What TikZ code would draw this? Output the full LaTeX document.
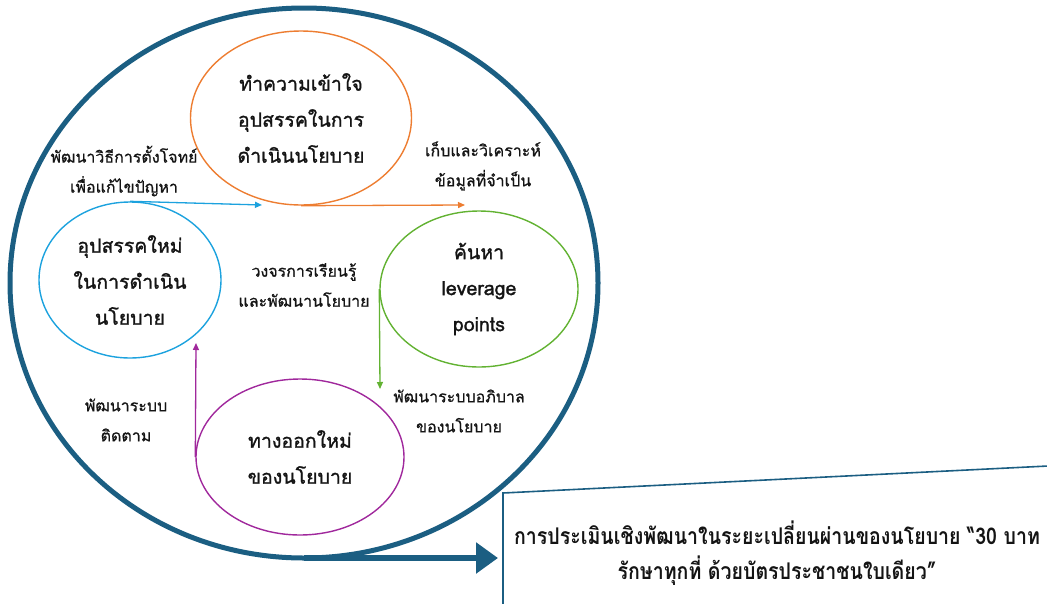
\documentclass[tikz,border=0pt]{standalone}
\usepackage{fontspec}
\usetikzlibrary{shapes.geometric,arrows.meta}
\newfontfamily\thaifont[Script=Thai,FakeBold=0.8]{Loma}
\newfontfamily\thaiheavy[Script=Thai,FakeBold=1.3]{Loma}
\newfontfamily\thaicond[Script=Thai,FakeStretch=0.85]{Loma}
\definecolor{bigblue}{RGB}{27,94,130}
\definecolor{corange}{RGB}{237,125,49}
\definecolor{cblue}{RGB}{28,162,222}
\definecolor{cgreen}{RGB}{98,178,50}
\definecolor{cpurple}{RGB}{160,40,156}
\definecolor{txt}{RGB}{20,20,20}
\tikzset{
  oval/.style={ellipse, draw, line width=1.4pt, inner sep=0pt, align=center, text=txt,
     font=\thaiheavy\fontsize{19.5}{36}\selectfont},
  lbl/.style={align=center, text=txt, font=\thaifont\fontsize{16}{30}\selectfont},
  flow/.style={line width=1.3pt, -{Triangle[length=7pt,width=6pt]}},
}
\begin{document}
\begin{tikzpicture}[x=1pt,y=-1pt]
\useasboundingbox (0,0) rectangle (1047,603);
% big circle
\node[ellipse, draw=bigblue, line width=5pt, outer sep=0pt, minimum width=588pt, minimum height=550pt, inner sep=0pt] (big) at (304,283) {};
% ovals
\node[oval, draw=corange, minimum width=221pt, minimum height=174pt] (o) at (301,118) {ทำความเข้าใจ\\อุปสรรคในการ\\ดำเนินนโยบาย};
\node[oval, draw=cblue, minimum width=182pt, minimum height=156pt] (b) at (130,280) {อุปสรรคใหม่\\ในการดำเนิน\\นโยบาย};
\node[oval, draw=cgreen, minimum width=198pt, minimum height=156pt] (g) at (479,289) {ค้นหา\\leverage\\points};
\node[oval, draw=cpurple, minimum width=208pt, minimum height=156pt] (p) at (300,457) {ทางออกใหม่\\ของนโยบาย};
% labels
\node[lbl] (l1) at (124,171) {พัฒนาวิธีการตั้งโจทย์\\เพื่อแก้ไขปัญหา};
\node[lbl] (l2) at (483,166) {เก็บและวิเคราะห์\\ข้อมูลที่จำเป็น};
\node[lbl] (l3) at (304,285) {วงจรการเรียนรู้\\และพัฒนานโยบาย};
\node[lbl] (l4) at (459,411) {พัฒนาระบบอภิบาล\\ของนโยบาย};
\node[lbl] (l5) at (126,420) {พัฒนาระบบ\\ติดตาม};
% arrow ends
\coordinate (e1) at (262,205);
\coordinate (e2) at (465,205);
\coordinate (e3) at (380,389);
\coordinate (e4) at (196,343);
\coordinate (e5) at (498,558);
\draw[flow, draw=cblue, fill=cblue] (b.north) -- (e1);
\draw[flow, draw=corange, fill=corange] (o.south) -- (e2);
\draw[flow, draw=cgreen, fill=cgreen] (g.west) -- (e3);
\draw[flow, draw=cpurple, fill=cpurple] (p.west) -- (e4);
\draw[bigblue, line width=6pt, -{Triangle[length=22pt,width=30pt]}] (big.south) -- (e5);
% box
\coordinate (bx1) at (503,604);
\coordinate (bx2) at (503,493);
\coordinate (bx3) at (1048,466);
\draw[bigblue, line width=1.6pt] (bx1) -- (bx2) -- (bx3);
\node[align=center, text=txt, font=\thaicond\bfseries\fontsize{23}{35}\selectfont] (box) at (777,553) {การประเมินเชิงพัฒนาในระยะเปลี่ยนผ่านของนโยบาย “30 บาท\\รักษาทุกที่ ด้วยบัตรประชาชนใบเดียว”};
\end{tikzpicture}
\end{document}
